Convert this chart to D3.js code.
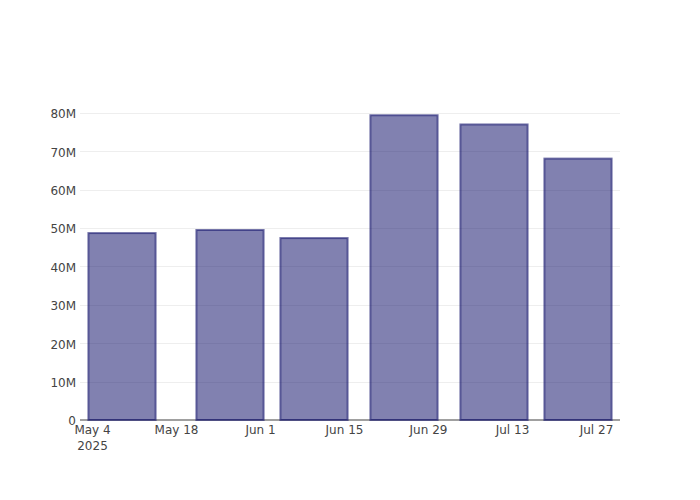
<!DOCTYPE html>
<html>
<head>
<meta charset="utf-8">
<script src="https://cdn.jsdelivr.net/npm/d3@7"></script>
<style>
  html, body { margin: 0; padding: 0; background: #fff; }
  svg { display: block; }
  .tick text { font-family: "DejaVu Sans", Verdana, sans-serif; font-size: 12px; fill: #444; }
</style>
</head>
<body>
<svg id="chart" width="700" height="500"></svg>
<script>
// bar dates and values
const dates = ['2025-05-09', '2025-05-27', '2025-06-10', '2025-06-25', '2025-07-10', '2025-07-24']
const values = [48.7e6, 49.5e6, 47.4e6, 79.4e6, 77.0e6, 68.1e6]
const yTicks = [0, 10e6, 20e6, 30e6, 40e6, 50e6, 60e6, 70e6, 80e6]
const xTicks = ['2025-05-04', '2025-05-18', '2025-06-01', '2025-06-15', '2025-06-29', '2025-07-13', '2025-07-27']

//

const width = 700
const height = 500
const margin = { top: 100, right: 80, bottom: 80, left: 80 }
const parse = d3.utcParse('%Y-%m-%d')
const DAY = 864e5

const data = dates.map((d, i) => ({ date: parse(d), value: values[i] }))

// bar width = 0.8 of the smallest gap between bars
const gaps = d3.pairs(data, (a, b) => b.date - a.date)
const barMs = d3.min(gaps) * 0.8
const padMs = 1.4 * DAY

const x = d3.scaleUtc()
  .domain([
    new Date(+data[0].date - barMs / 2 - padMs),
    new Date(+data[data.length - 1].date + barMs / 2 + padMs)
  ])
  .range([margin.left, width - margin.right])

const y = d3.scaleLinear()
  .domain([0, d3.max(values) * 1.05])
  .range([height - margin.bottom, margin.top])

const svg = d3.select('#chart')

// grid
const yAxis = d3.axisLeft(y)
  .tickValues(yTicks)
  .tickSize(0)
  .tickPadding(3)
  .tickFormat(d => d === 0 ? '0' : d3.format('~s')(d))

svg.append('g')
    .attr('class', 'grid')
  .selectAll('line')
  .data(yTicks.filter(d => d !== 0))
  .join('line')
    .attr('x1', margin.left)
    .attr('x2', width - margin.right)
    .attr('y1', d => Math.round(y(d)) + 0.5)
    .attr('y2', d => Math.round(y(d)) + 0.5)
    .attr('stroke', '#eee')
    .attr('stroke-width', 1)

// zero line
svg.append('line')
    .attr('x1', margin.left)
    .attr('x2', width - margin.right)
    .attr('y1', y(0))
    .attr('y2', y(0))
    .attr('stroke', '#a0a0a0')
    .attr('stroke-width', 2)

// bars
svg.append('g')
    .attr('class', 'bars')
  .selectAll('rect')
  .data(data)
  .join('rect')
    .attr('x', d => x(new Date(+d.date - barMs / 2)))
    .attr('width', d => x(new Date(+d.date + barMs / 2)) - x(new Date(+d.date - barMs / 2)))
    .attr('y', d => y(d.value))
    .attr('height', d => y(0) - y(d.value))
    .attr('fill', 'rgb(25,25,112)')
    .attr('fill-opacity', 0.55)
    .attr('stroke', 'rgb(25,25,112)')
    .attr('stroke-opacity', 0.6)
    .attr('stroke-width', 2)

// y axis labels
svg.append('g')
    .attr('class', 'axis axis--y')
    .attr('transform', `translate(${margin.left - 1},1)`)
    .call(yAxis)
    .call(g => g.select('.domain').remove())

// x axis labels
const xAxis = d3.axisBottom(x)
  .tickValues(xTicks.map(parse))
  .tickSize(0)
  .tickPadding(5)
  .tickFormat(d3.utcFormat('%b %-d'))

const gX = svg.append('g')
    .attr('class', 'axis axis--x')
    .attr('transform', `translate(0,${height - margin.bottom})`)
    .call(xAxis)
    .call(g => g.select('.domain').remove())

// year under the first tick
gX.selectAll('.tick')
  .filter((d, i) => i === 0)
  .select('text')
  .append('tspan')
    .attr('x', 0)
    .attr('dy', '1.35em')
    .text(d => d3.utcFormat('%Y')(d))
</script>
</body>
</html>
